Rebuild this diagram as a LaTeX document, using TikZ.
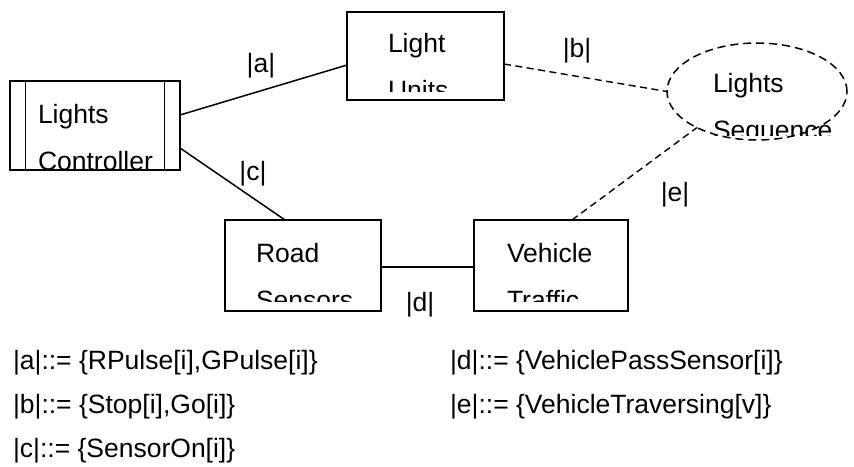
\documentclass[tikz,border=0pt]{standalone}
\usepackage{fontspec}
\setmainfont{Liberation Sans}
\usetikzlibrary{shapes.geometric}
\begin{document}
\begin{tikzpicture}[x=1pt,y=-1pt,
  txt/.style={inner sep=0pt,outer sep=0pt,anchor=base west,font=\fontsize{26.5}{30}\selectfont},
  lbl/.style={inner sep=0pt,outer sep=0pt,anchor=center,font=\fontsize{26.5}{30}\selectfont},
  dombox/.style={draw,line width=1.8pt,rectangle,inner sep=0pt,outer sep=0pt},
  designed/.style={draw,line width=1.5pt,dash pattern=on 8pt off 5pt,ellipse,inner sep=0pt,outer sep=0pt},
  solidlink/.style={line width=1.5pt},
  dashlink/.style={line width=1.4pt,dash pattern=on 7pt off 4.5pt}]
\useasboundingbox (0,0) rectangle (854,466);

% boxes
\node[dombox,minimum width=170pt,minimum height=89pt] (lc) at (95,125.5) {};
\draw[line width=1.8pt] (25.5,81) -- (25.5,170) (164.5,81) -- (164.5,170);
\node[dombox,minimum width=157pt,minimum height=88pt] (lu) at (425.5,56) {};
\node[dombox,minimum width=156pt,minimum height=91pt] (rs) at (303,265.5) {};
\node[dombox,minimum width=154pt,minimum height=91pt] (vt) at (551,265.5) {};
\node[designed,minimum width=180pt,minimum height=97pt] (ls) at (757,91.5) {};

% box texts (clipped at the bottom like the original)
\begin{scope}
  \clip (26,82) rectangle (164,169);
  \node[txt] (lc1) at (38,123) {Lights};
  \node[txt] (lc2) at (38,170) {Controller};
\end{scope}
\begin{scope}
  \clip (348,13) rectangle (503,91);
  \node[txt] (lu1) at (388,52) {Light};
  \node[txt] (lu2) at (388,99) {Units};
\end{scope}
\begin{scope}
  \clip (226,221) rectangle (380,301);
  \node[txt] (rs1) at (256,262) {Road};
  \node[txt] (rs2) at (256,309) {Sensors};
\end{scope}
\begin{scope}
  \clip (475,221) rectangle (627,301);
  \node[txt] (vt1) at (507,262) {Vehicle};
  \node[txt] (vt2) at (507,309) {Traffic};
\end{scope}
\begin{scope}
  \clip (660,40) rectangle (854,135);
  \node[txt] (ls1) at (713,92) {Lights};
  \node[txt] (ls2) at (713,139) {Sequence};
\end{scope}

% connectors
\draw[solidlink] ([yshift=10.5pt]lc.east) -- ([yshift=-9pt]lu.west);
\draw[solidlink] ([yshift=-22.5pt]lc.east) -- ([xshift=-18pt]rs.north);
\draw[solidlink] ([yshift=-1.5pt]rs.east) -- ([yshift=-1.5pt]vt.west);
\draw[dashlink] ([yshift=-8pt]lu.east) -- (ls.west);
\draw[dashlink] ([xshift=21pt]vt.north) -- (ls.211);

% connector labels
\node[lbl] (la) at (261,66) {|a|};
\node[lbl] (lb) at (577,51) {|b|};
\node[lbl] (lcl) at (253,174) {|c|};
\node[lbl] (ld) at (420,305) {|d|};
\node[lbl] (le) at (675,195) {|e|};

% definitions
\node[txt] (da) at (13,369) {|a|::= \{RPulse[i],GPulse[i]\}};
\node[txt] (db) at (13,413) {|b|::= \{Stop[i],Go[i]\}};
\node[txt] (dc) at (13,457) {|c|::= \{SensorOn[i]\}};
\node[txt] (dd) at (450,369) {|d|::= \{VehiclePassSensor[i]\}};
\node[txt] (de) at (450,413) {|e|::= \{VehicleTraversing[v]\}};
\end{tikzpicture}
\end{document}
